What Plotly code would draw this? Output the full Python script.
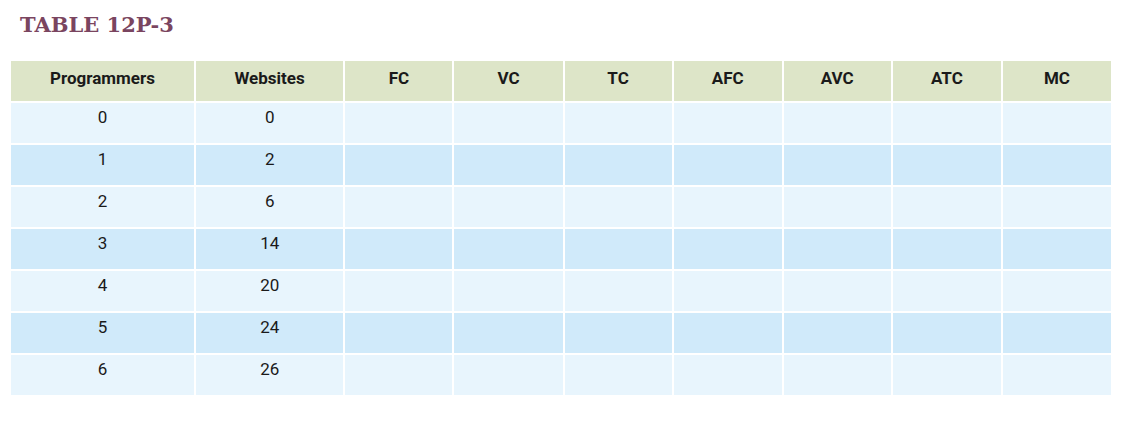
import plotly.graph_objects as go

headers = ["Programmers", "Websites", "FC", "VC", "TC", "AFC", "AVC", "ATC", "MC"]
programmers = [0, 1, 2, 3, 4, 5, 6]
websites = [0, 2, 6, 14, 20, 24, 26]
blank = [""] * len(programmers)

n = len(programmers)
row_fill = ["#e8f5fd" if i % 2 == 0 else "#d0eafa" for i in range(n)]
cols = [programmers, websites] + [blank] * 7

fig = go.Figure(go.Table(
    columnwidth=[185, 149, 109, 110, 109, 110, 109, 110, 110],
    header=dict(values=[f"<b>{h}</b>" for h in headers], fill_color="#dde5c8",
                line_color="white", line_width=2, height=42, align="center",
                font=dict(family="Roboto", size=17, color="#1a1a1a")),
    cells=dict(values=cols, fill_color=[row_fill] * 9, line_color="white", line_width=2,
               height=42, align="center",
               font=dict(family="Roboto", size=17, color="#1a1a1a")),
    domain=dict(x=[2/1136, 1104/1136], y=[0, 1 - 52/423]),
))
fig.add_annotation(text="<b>TABLE 12P-3</b>", xref="paper", yref="paper", x=10/1136, y=1 - 2/423,
                   xanchor="left", yanchor="top", showarrow=False,
                   font=dict(family="DejaVu Serif", size=21, color="#7a4560"))
fig.update_layout(width=1136, height=423, margin=dict(l=0, r=0, t=0, b=0),
                  paper_bgcolor="white", plot_bgcolor="white")
fig.write_html("out.html")
